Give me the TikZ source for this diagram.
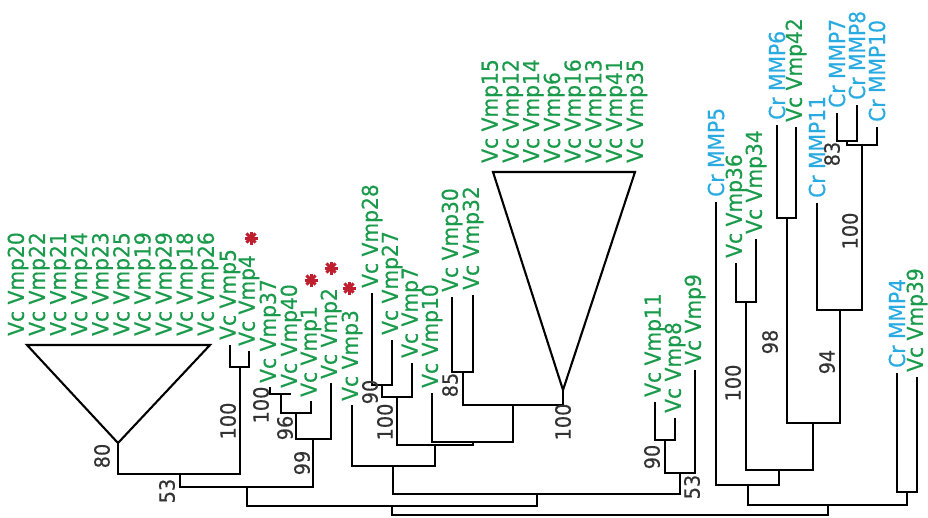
\documentclass[tikz,border=0pt]{standalone}
\usepackage{fontspec}
\setmainfont{DejaVu Sans}
\newfontfamily\labfont[FakeStretch=0.92,FakeBold=0.4]{DejaVu Sans}
\usetikzlibrary{calc}
\definecolor{vgreen}{HTML}{1A9A4B}
\definecolor{cblue}{HTML}{29ABE2}
\definecolor{astred}{HTML}{BE1E2D}
\definecolor{numgray}{HTML}{333333}
\begin{document}
\begin{tikzpicture}[x=1pt,y=-1pt,
  br/.style={line width=2.1pt, draw=black},
  vc/.style={rotate=90, anchor=west, inner sep=0pt, text=vgreen, font=\labfont\fontsize{22}{22}\selectfont},
  cr/.style={vc, text=cblue},
  bs/.style={rotate=90, inner sep=0pt, text=numgray, font=\labfont\fontsize{21}{21}\selectfont},
  ast/.style={draw=astred, line width=3pt}]
\useasboundingbox (0,0) rectangle (928,517);

% ---------- triangle clade 1 ----------
\coordinate (t1a) at (27,345);
\coordinate (t1b) at (210,345);
\coordinate (t1) at (118,443);
\draw[br, line join=miter] (t1a) -- (t1b) -- (t1) -- cycle;
\foreach \n [count=\i from 0] in {20,22,21,24,23,25,19,29,18,26}
  \node[vc] (lab\n) at ({18+21.1*\i},336) {Vc Vmp\n};

% ---------- triangle clade 2 ----------
\coordinate (t2a) at (493,172);
\coordinate (t2b) at (635,172);
\coordinate (t2) at (563,390);
\draw[br, line join=miter] (t2a) -- (t2b) -- (t2) -- cycle;
\foreach \n [count=\i from 0] in {15,12,14,6,16,13,41,35}
  \node[vc] (lab\n) at ({492+20.7*\i},163) {Vc Vmp\n};

% ---------- leaf tips ----------
\coordinate (L5) at (230,345);
\coordinate (L4) at (249,351);
\coordinate (L37) at (270,387);
\coordinate (L40) at (291,394);
\coordinate (L1) at (311,401);
\coordinate (L2) at (331,383);
\coordinate (L3) at (352,405);
\coordinate (L28) at (372,293);
\coordinate (L27) at (392,340);
\coordinate (L7) at (412,363);
\coordinate (L10) at (432,393);
\coordinate (L30) at (452,297);
\coordinate (L32) at (473,295);
\coordinate (L11) at (655,402);
\coordinate (L8) at (675,418);
\coordinate (L9) at (695,370);
\coordinate (C5) at (716,202);
\coordinate (L36) at (736,263);
\coordinate (L34) at (756,239);
\coordinate (C6) at (777,125);
\coordinate (L42) at (796,127);
\coordinate (C11) at (817,203);
\coordinate (C7) at (837,113);
\coordinate (C8) at (857,105);
\coordinate (C10) at (877,127);
\coordinate (C4) at (897,373);
\coordinate (L39) at (917,377);

% ---------- leaf labels ----------
\node[vc] (lab5) at ([yshift=5pt]L5) {Vc Vmp5};
\node[vc] (lab4) at ([yshift=5pt]L4) {Vc Vmp4};
\node[vc] (lab37) at ([yshift=4pt]L37) {Vc Vmp37};
\node[vc] (lab40) at ([yshift=6pt]L40) {Vc Vmp40};
\node[vc] (lab1) at ([yshift=4pt]L1) {Vc Vmp1};
\node[vc] (lab2) at ([yshift=4pt]L2) {Vc Vmp2};
\node[vc] (lab3) at ([yshift=4pt]L3) {Vc Vmp3};
\node[vc] (lab28) at ([yshift=5pt]L28) {Vc Vmp28};
\node[vc] (lab27) at ([yshift=5pt]L27) {Vc Vmp27};
\node[vc] (lab7) at ([yshift=5pt]L7) {Vc Vmp7};
\node[vc] (lab10) at ([yshift=5pt]L10) {Vc Vmp10};
\node[vc] (lab30) at ([yshift=5pt]L30) {Vc Vmp30};
\node[vc] (lab32) at ([yshift=5pt]L32) {Vc Vmp32};
\node[vc] (lab11) at ([yshift=5pt]L11) {Vc Vmp11};
\node[vc] (lab8) at ([yshift=5pt]L8) {Vc Vmp8};
\node[vc] (lab9) at ([yshift=5pt]L9) {Vc Vmp9};
\node[cr] (labC5) at ([yshift=5pt]C5) {Cr MMP5};
\node[vc] (lab36) at ([yshift=5pt]L36) {Vc Vmp36};
\node[vc] (lab34) at ([yshift=5pt]L34) {Vc Vmp34};
\node[cr] (labC6) at ([yshift=5pt]C6) {Cr MMP6};
\node[vc] (lab42) at ([yshift=5pt]L42) {Vc Vmp42};
\node[cr] (labC11) at ([yshift=5pt]C11) {Cr MMP11};
\node[cr] (labC7) at ([yshift=5pt]C7) {Cr MMP7};
\node[cr] (labC8) at ([yshift=5pt]C8) {Cr MMP8};
\node[cr] (labC10) at ([yshift=5pt]C10) {Cr MMP10};
\node[cr] (labC4) at ([yshift=5pt]C4) {Cr MMP4};
\node[vc] (lab39) at ([yshift=5pt]L39) {Vc Vmp39};

% ---------- internal nodes ----------
\coordinate (nA) at (240,367);
\coordinate (nB) at (180,474);
\coordinate (nC) at (281,394);
\coordinate (nD) at (296,413);
\coordinate (nE) at (313,439);
\coordinate (nF) at (247,487);
\coordinate (nG) at (382,385);
\coordinate (nH) at (397,397);
\coordinate (nI) at (463,372);
\coordinate (nJ) at (513,405);
\coordinate (nK) at (473,442);
\coordinate (nL) at (435,445);
\coordinate (nM) at (393,466);
\coordinate (nN) at (665,440);
\coordinate (nO) at (680,473);
\coordinate (nP) at (537,494);
\coordinate (nQ) at (392,506);
\coordinate (nR) at (746,302);
\coordinate (nS) at (787,218);
\coordinate (nT) at (847,141);
\coordinate (nU) at (862,145);
\coordinate (nV) at (840,310);
\coordinate (nW) at (813,423);
\coordinate (nX) at (779,470);
\coordinate (nY) at (748,485);
\coordinate (nZ) at (907,492);
\coordinate (nZZ) at (828,505);
\coordinate (root) at (610,515);

% ---------- branches ----------
\foreach \p/\c in {nA/L5,nA/L4,nB/t1,nB/nA,nC/L37,nC/L40,nD/nC,nD/L1,nE/nD,nE/L2,
  nF/nB,nF/nE,nG/L28,nG/L27,nH/nG,nH/L7,nI/L30,nI/L32,nJ/nI,nJ/t2,nK/L10,nK/nJ,
  nL/nH,nL/nK,nM/L3,nM/nL,nN/L11,nN/L8,nO/nN,nO/L9,nP/nM,nP/nO,nQ/nF,nQ/nP,
  nR/L36,nR/L34,nS/C6,nS/L42,nT/C7,nT/C8,nU/nT,nU/C10,nV/C11,nV/nU,nW/nS,nW/nV,
  nX/nR,nX/nW,nY/C5,nY/nX,nZ/C4,nZ/L39,nZZ/nY,nZZ/nZ,root/nQ,root/nZZ}
  \draw[br] (\p) -| (\c);

% ---------- bootstrap values ----------
\node[bs] (b80) at (102,456) {80};
\node[bs] (b100a) at (228,421) {100};
\node[bs] (b53a) at (167,491) {53};
\node[bs] (b100b) at (261,405) {100};
\node[bs] (b96) at (285,428) {96};
\node[bs] (b99) at (302,463) {99};
\node[bs] (b90a) at (370,392) {90};
\node[bs] (b100c) at (385,422) {100};
\node[bs] (b85) at (450,385) {85};
\node[bs] (b100d) at (563,422) {100};
\node[bs] (b90b) at (652,457) {90};
\node[bs] (b53b) at (692,487) {53};
\node[bs] (b100e) at (733,383) {100};
\node[bs] (b98) at (770,342) {98};
\node[bs] (b94) at (827,362) {94};
\node[bs] (b100f) at (850,231) {100};
\node[bs] (b83) at (832,154) {83};

% ---------- asterisks ----------
\foreach \cx/\cy in {251/238, 311/280, 331/268, 349/288}
  \foreach \a in {0,45,90,135}
    \draw[ast] ($(\cx,\cy)+(\a:6.5)$) -- ($(\cx,\cy)+(\a+180:6.5)$);
\end{tikzpicture}
\end{document}
